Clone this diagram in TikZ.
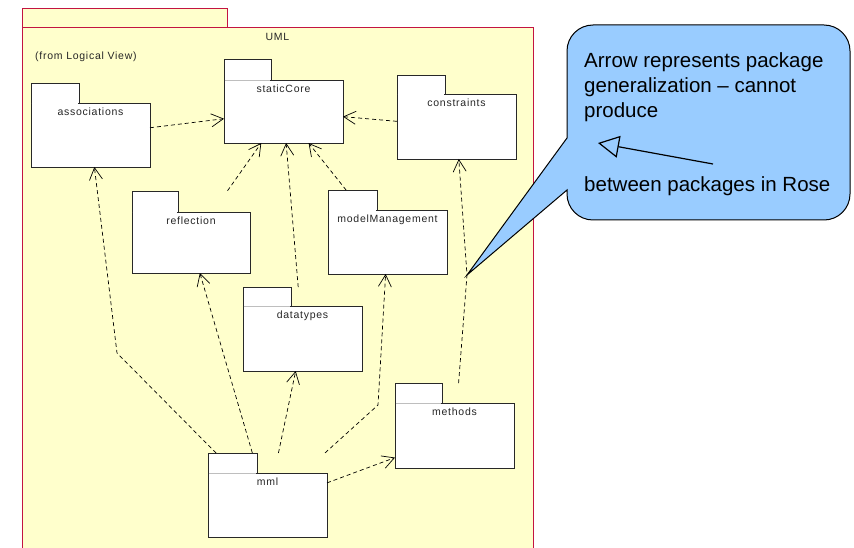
\documentclass[tikz,border=0pt]{standalone}
\usepackage{fontspec}
\usetikzlibrary{arrows.meta}
\newfontfamily\pkgfont[LetterSpace=7]{Liberation Sans}
\newfontfamily\notefont{Liberation Sans}
\definecolor{frameline}{RGB}{195,20,65}
\definecolor{framefill}{RGB}{255,255,204}
\definecolor{notefill}{RGB}{153,204,255}
\definecolor{pkgedge}{RGB}{40,40,40}
\definecolor{tabgray}{RGB}{190,190,190}
\tikzset{
  pkgline/.style={draw=pkgedge, line width=0.9pt},
  pkgbody/.style={draw=pkgedge, line width=0.9pt, fill=white, rectangle, inner sep=0pt, outer sep=0pt},
  pkglabel/.style={anchor=base, inner sep=0pt, text=black!85, font=\pkgfont\fontsize{10.5}{12}\selectfont},
  framelabel/.style={inner sep=0pt, text=black!85, font=\pkgfont\fontsize{10.5}{12}\selectfont},
  dep/.style={draw=black, line width=0.7pt, dash pattern=on 4pt off 3pt, -{Straight Barb[length=12pt,width=13pt]}},
  notetext/.style={anchor=base west, inner sep=0pt, font=\notefont\fontsize{20.5}{25}\selectfont},
  callout/.style={draw=black, line width=1pt, fill=notefill},
}
% #1 name, #2 x1, #3 ytab, #4 xtab, #5 ybody, #6 x2, #7 y2, #8 label, #9 colour under tab
\newcommand\umlpkg[9]{%
  \filldraw[pkgline, fill=white] (#2,#5) -- (#2,#3) -- (#4,#3) -- (#4,#5);
  \node[pkgbody, minimum width={#6-#2}, minimum height={#7-#5}] (#1) at ({(#2+#6)/2},{(#5+#7)/2}) {};
  \draw[line width=0.8pt, #9] ({#2+0.6},#5) -- ({#4-0.6},#5);
  \node[pkglabel] (#1-label) at ({(#2+#6)/2},{#5+12.5}) {#8};
}
\begin{document}
\begin{tikzpicture}[x=1pt,y=-1pt]
\useasboundingbox (0,0) rectangle (854,548);
\fill[white] (0,0) rectangle (854,548);
% UML frame
\filldraw[draw=frameline, fill=framefill, line width=1pt] (22,9) rectangle (227,28);
\filldraw[draw=frameline, fill=framefill, line width=1pt] (22,549) -- (22,28) -- (533,28) -- (533,549);
\node[framelabel, anchor=base] (umltitle) at (277.5,41) {UML};
\node[framelabel, anchor=base west] (fromview) at (35,60) {(from Logical View)};
% packages
\umlpkg{assoc}{31}{83}{79}{103}{150}{167}{associations}{white}
\umlpkg{sc}{224}{59}{271}{80}{343}{143}{staticCore}{tabgray}
\umlpkg{cons}{397}{75}{445}{94}{516}{159}{constraints}{white}
\umlpkg{refl}{132}{191}{178}{212}{250}{273}{reflection}{white}
\umlpkg{mm}{328}{190}{377}{210}{447}{274}{modelManagement}{white}
\umlpkg{dt}{243}{287}{291}{306}{362}{371}{datatypes}{tabgray}
\umlpkg{meth}{395}{383}{442}{403}{514}{468}{methods}{tabgray}
\umlpkg{mml}{208}{453}{257}{473}{327}{537}{mml}{tabgray}
% bends
\coordinate (c1) at (117,353);
\coordinate (c2) at (378,405);
\coordinate (c3) at (467,275);
% callout
\filldraw[callout] (c3) -- (567,190) -- (567,194)
  arc[start angle=180, end angle=90, radius=26] -- (824,220)
  arc[start angle=90, end angle=0, radius=26] -- (850,51)
  arc[start angle=0, end angle=-90, radius=26] -- (593,25)
  arc[start angle=-90, end angle=-180, radius=26] -- (567,138) -- cycle;
\node[notetext] (n1) at (584,68) {Arrow represents package};
\node[notetext] (n2) at (584,93) {generalization – cannot};
\node[notetext] (n3) at (584,118) {produce};
\node[notetext] (n4) at (584,192) {between packages in Rose};
\coordinate (ia1) at (713,164);
\coordinate (ia2) at (598,143);
\draw[line width=1.2pt, -{Triangle[open, length=21pt, width=22pt]}] (ia1) -- (ia2);
% dependencies
\draw[dep] (assoc) -- (sc);
\draw[dep] (cons) -- (sc);
\draw[dep, shorten <=26pt] (refl) -- (sc);
\draw[dep, shorten <=19pt] (dt) -- (sc);
\draw[dep, shorten <=25.5pt] (mm) -- (sc);
\draw[dep, shorten <=28pt] (mml) -- (c1) -- (assoc);
\draw[dep, shorten <=21pt] (mml) -- (refl);
\draw[dep, shorten <=20.5pt] (mml) -- (dt);
\draw[dep, shorten <=30pt] (mml) -- (c2) -- (mm);
\draw[dep] (mml) -- (meth);
\draw[dep, shorten <=20pt] (meth) -- (c3) -- (cons);
\end{tikzpicture}
\end{document}
